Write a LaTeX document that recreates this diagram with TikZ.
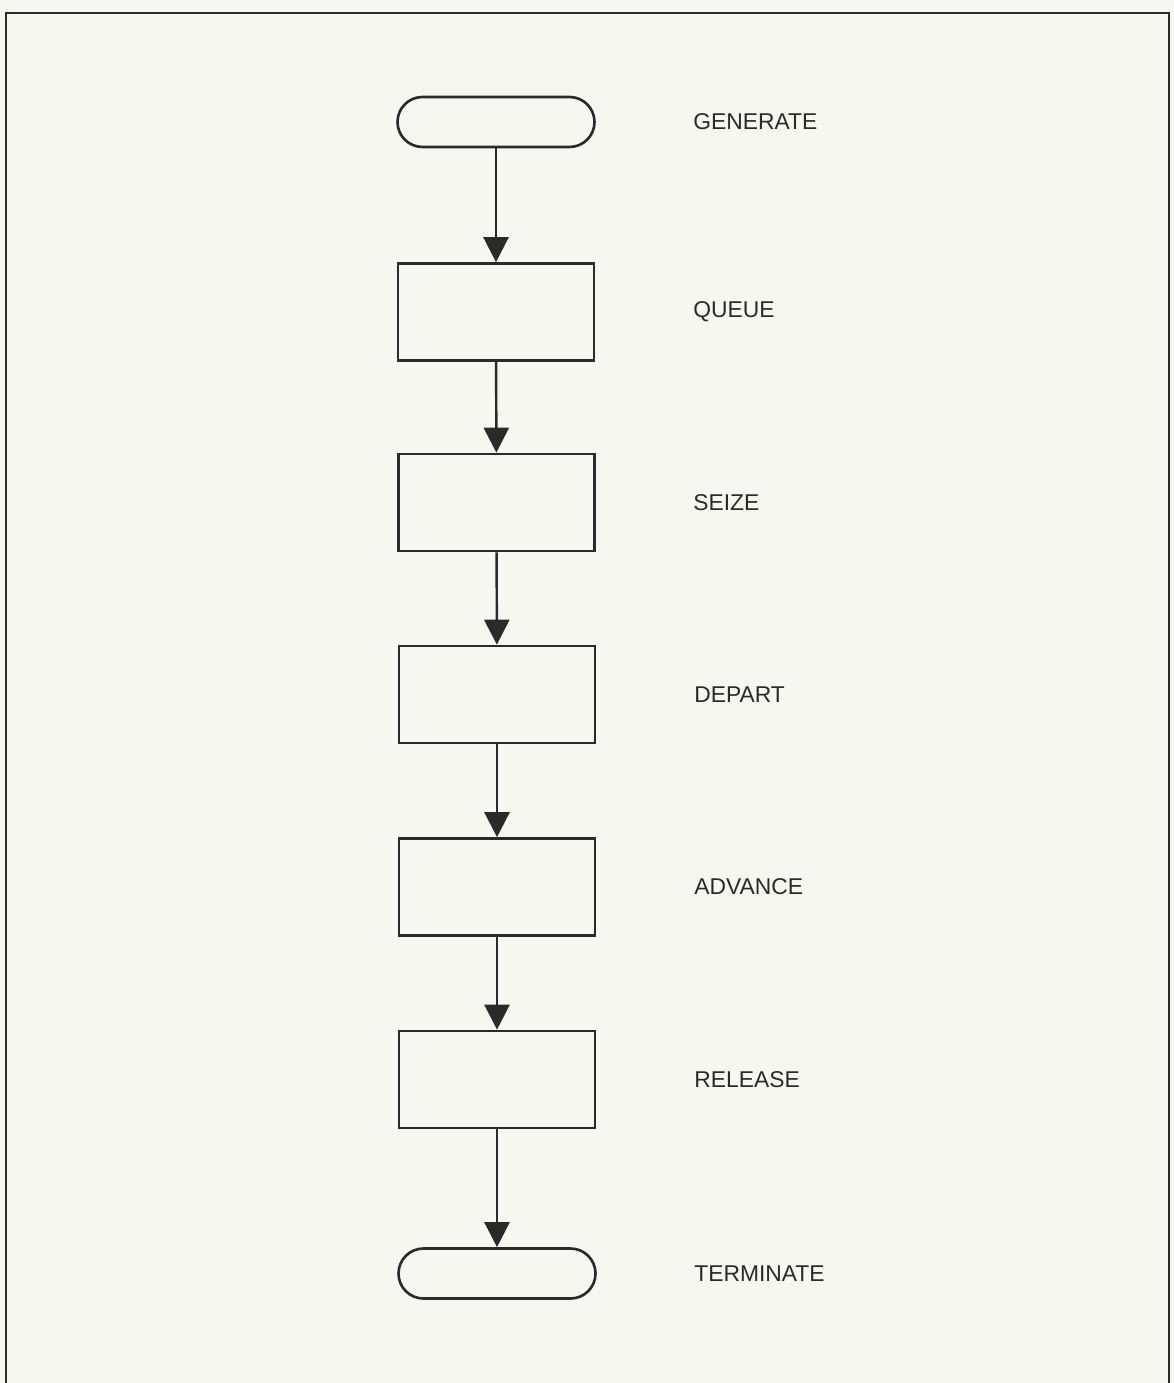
\documentclass[tikz,border=0pt]{standalone}
\usepackage{fontspec}
\setmainfont{Liberation Sans}
\usetikzlibrary{arrows.meta}
\definecolor{bg}{HTML}{F7F7F1}
\definecolor{ink}{HTML}{2A2A2A}
\begin{document}
\begin{tikzpicture}[
  blockbox/.style={draw=ink, line width=1.5pt, minimum width=3.92cm, minimum height=1.94cm, inner sep=0pt},
  termbox/.style={draw=ink, line width=1.5pt, rounded corners=0.5cm, minimum width=3.94cm, minimum height=1.0cm, inner sep=0pt},
  lbl/.style={anchor=west, text=ink, font=\fontsize{13}{15}\selectfont, inner sep=0pt},
  flow/.style={draw=ink, line width=1.4pt, -{Triangle[length=0.5cm,width=0.5cm]}}
]
\fill[bg] (0,0) rectangle (23.48,-27.66);
\useasboundingbox (0,0) rectangle (23.48,-27.66);
\draw[ink, line width=1.2pt] (0.12,-27.7) -- (0.12,-0.26) -- (23.38,-0.26) -- (23.38,-27.7);

\node[termbox]  (gen)  at (9.92,-2.44)  {};
\node[blockbox] (que)  at (9.92,-6.24)  {};
\node[blockbox] (sei)  at (9.93,-10.05) {};
\node[blockbox] (dep)  at (9.94,-13.89) {};
\node[blockbox] (adv)  at (9.94,-17.74) {};
\node[blockbox] (rel)  at (9.94,-21.59) {};
\node[termbox]  (ter)  at (9.94,-25.47) {};

\node[lbl] (lgen) at (13.86,-2.44)  {GENERATE};
\node[lbl] (lque) at (13.86,-6.24)  {QUEUE};
\node[lbl] (lsei) at (13.86,-10.05) {SEIZE};
\node[lbl] (ldep) at (13.88,-13.89) {DEPART};
\node[lbl] (ladv) at (13.88,-17.74) {ADVANCE};
\node[lbl] (lrel) at (13.88,-21.59) {RELEASE};
\node[lbl] (lter) at (13.88,-25.47) {TERMINATE};

\draw[flow] (gen) -- (que);
\draw[flow] (que) -- (sei);
\draw[flow] (sei) -- (dep);
\draw[flow] (dep) -- (adv);
\draw[flow] (adv) -- (rel);
\draw[flow] (rel) -- (ter);
\end{tikzpicture}
\end{document}
